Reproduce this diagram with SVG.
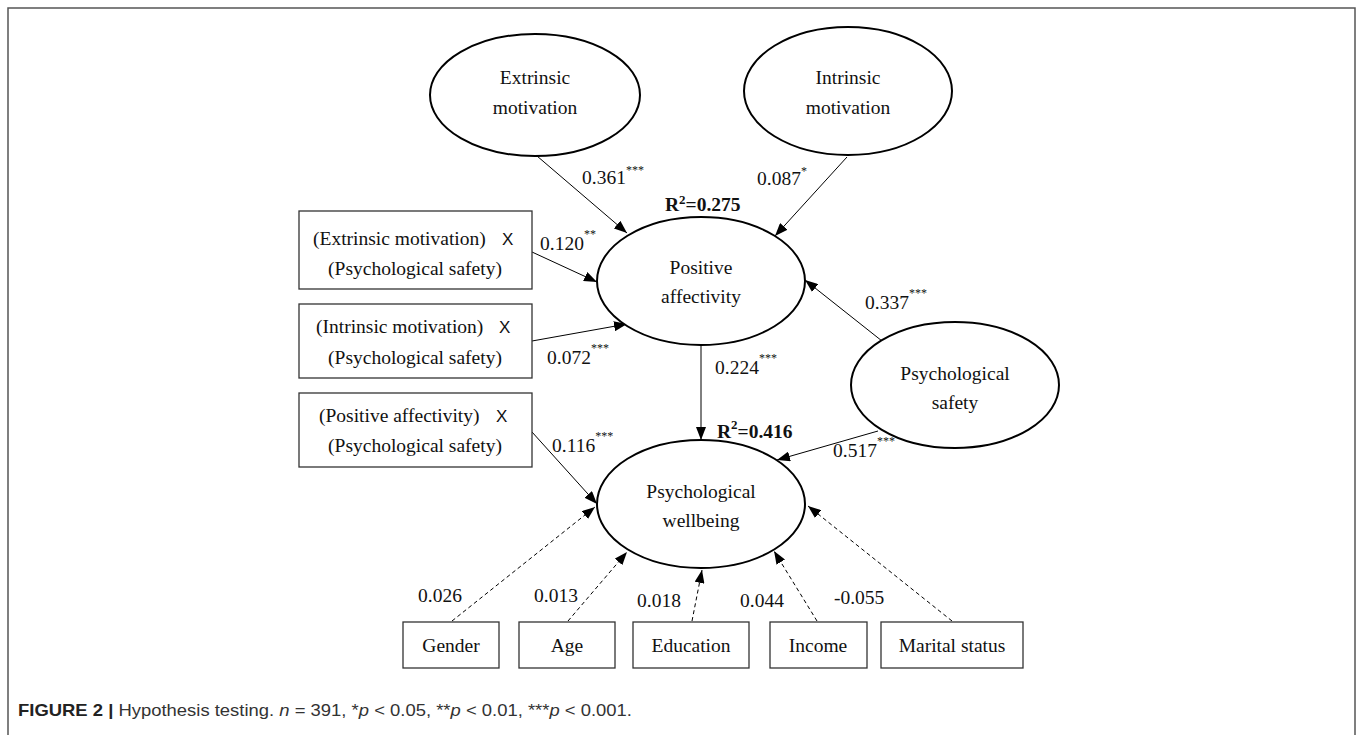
<svg xmlns="http://www.w3.org/2000/svg" width="1357" height="735" viewBox="0 0 1357 735">
<style>
.t{font-family:"Liberation Serif","Times New Roman",serif;font-size:19.5px;fill:#111;text-anchor:middle}
.l{font-family:"Liberation Serif","Times New Roman",serif;font-size:19.5px;fill:#111}
.b{font-family:"Liberation Serif","Times New Roman",serif;font-size:19.5px;font-weight:bold;fill:#111}
.s{font-size:12px;fill:#111}
.e{fill:#fff;stroke:#000;stroke-width:2}
.r{fill:#fff;stroke:#333;stroke-width:1.3}
.c{stroke:#000;stroke-width:1;fill:none;marker-end:url(#ah)}
.d{stroke:#000;stroke-width:1;fill:none;stroke-dasharray:4,3;marker-end:url(#ah)}
.x{font-family:"Liberation Sans",Arial,sans-serif;font-size:17px;fill:#111}
.cap{font-family:"Liberation Sans",Arial,sans-serif;font-size:17px;fill:#333}
</style>
<defs>
<marker id="ah" markerUnits="userSpaceOnUse" markerWidth="13" markerHeight="10" refX="13" refY="5" orient="auto">
<path d="M0,0 L13,5 L0,10 z" fill="#000"/>
</marker>
</defs>
<rect width="1357" height="735" fill="#fff"/>
<path d="M8,735 V8 H1355 V735" fill="none" stroke="#555" stroke-width="1.5"/>

<g id="connectors">
<line class="c" x1="537" y1="156" x2="627" y2="233"/>
<line class="c" x1="847" y1="157" x2="775" y2="236"/>
<line class="c" x1="532" y1="252" x2="597" y2="282"/>
<line class="c" x1="532" y1="341" x2="627" y2="324"/>
<line class="c" x1="532" y1="432" x2="597" y2="504"/>
<line class="c" x1="701" y1="345" x2="701" y2="440"/>
<line class="c" x1="882" y1="341" x2="805" y2="280"/>
<line class="c" x1="878" y1="431" x2="777" y2="460"/>
<line class="d" x1="452" y1="621" x2="595" y2="507"/>
<line class="d" x1="568" y1="621" x2="627" y2="552"/>
<line class="d" x1="692" y1="621" x2="702" y2="570"/>
<line class="d" x1="817" y1="621" x2="774" y2="551"/>
<line class="d" x1="952" y1="621" x2="808" y2="506"/>
</g>

<g id="extrinsic">
<ellipse class="e" cx="535" cy="95" rx="105" ry="61"/>
<text class="t" x="535" y="84">Extrinsic</text>
<text class="t" x="535" y="114">motivation</text>
</g>
<g id="intrinsic">
<ellipse class="e" cx="848" cy="91" rx="104" ry="64"/>
<text class="t" x="848" y="84">Intrinsic</text>
<text class="t" x="848" y="114">motivation</text>
</g>
<g id="positive">
<ellipse class="e" cx="701" cy="281" rx="104" ry="64"/>
<text class="t" x="701" y="274">Positive</text>
<text class="t" x="701" y="303">affectivity</text>
</g>
<g id="safety">
<ellipse class="e" cx="955" cy="385" rx="104" ry="63"/>
<text class="t" x="955" y="380">Psychological</text>
<text class="t" x="955" y="409">safety</text>
</g>
<g id="wellbeing">
<ellipse class="e" cx="701" cy="504" rx="104" ry="64"/>
<text class="t" x="701" y="498">Psychological</text>
<text class="t" x="701" y="527">wellbeing</text>
</g>

<g id="box-em-ps">
<rect class="r" x="299" y="211" width="233" height="78"/>
<text class="l" x="313" y="245">(Extrinsic motivation)</text>
<text class="x" x="502" y="245">X</text>
<text class="t" x="415" y="275">(Psychological safety)</text>
</g>
<g id="box-im-ps">
<rect class="r" x="299" y="304" width="233" height="74"/>
<text class="l" x="316" y="333">(Intrinsic motivation)</text>
<text class="x" x="499" y="333">X</text>
<text class="t" x="415" y="364">(Psychological safety)</text>
</g>
<g id="box-pa-ps">
<rect class="r" x="299" y="393" width="233" height="74"/>
<text class="l" x="319" y="422">(Positive affectivity)</text>
<text class="x" x="496" y="422">X</text>
<text class="t" x="415" y="452">(Psychological safety)</text>
</g>

<g id="gender"><rect class="r" x="403" y="622" width="96" height="46"/><text class="t" x="451" y="652">Gender</text></g>
<g id="age"><rect class="r" x="519" y="622" width="96" height="46"/><text class="t" x="567" y="652">Age</text></g>
<g id="education"><rect class="r" x="633" y="622" width="116" height="46"/><text class="t" x="691" y="652">Education</text></g>
<g id="income"><rect class="r" x="770" y="622" width="97" height="46"/><text class="t" x="818" y="652">Income</text></g>
<g id="marital"><rect class="r" x="881" y="622" width="142" height="46"/><text class="t" x="952" y="652">Marital status</text></g>

<g id="labels">
<text class="l" x="582" y="184">0.361<tspan class="s" dy="-10">***</tspan></text>
<text class="l" x="757" y="185">0.087<tspan class="s" dy="-10">*</tspan></text>
<text class="b" x="665" y="211">R<tspan font-size="13" dy="-7">2</tspan><tspan dy="7">=0.275</tspan></text>
<text class="l" x="540" y="250">0.120<tspan class="s" dy="-12">**</tspan></text>
<text class="l" x="547" y="364">0.072<tspan class="s" dy="-12">***</tspan></text>
<text class="l" x="715" y="374">0.224<tspan class="s" dy="-12">***</tspan></text>
<text class="l" x="865" y="309">0.337<tspan class="s" dy="-12">***</tspan></text>
<text class="b" x="717" y="438">R<tspan font-size="13" dy="-9">2</tspan><tspan dy="9">=0.416</tspan></text>
<text class="l" x="552" y="452">0.116<tspan class="s" dy="-12">***</tspan></text>
<text class="l" x="833" y="457">0.517<tspan class="s" dy="-12">***</tspan></text>
<text class="l" x="418" y="602">0.026</text>
<text class="l" x="534" y="602">0.013</text>
<text class="l" x="637" y="607">0.018</text>
<text class="l" x="740" y="607">0.044</text>
<text class="l" x="834" y="604">-0.055</text>
</g>

<text class="cap" x="18" y="716" textLength="614" lengthAdjust="spacingAndGlyphs"><tspan font-weight="bold" fill="#222">FIGURE 2 |</tspan> Hypothesis testing. <tspan font-style="italic">n</tspan> = 391, *<tspan font-style="italic">p</tspan> &lt; 0.05, **<tspan font-style="italic">p</tspan> &lt; 0.01, ***<tspan font-style="italic">p</tspan> &lt; 0.001.</text>
</svg>
